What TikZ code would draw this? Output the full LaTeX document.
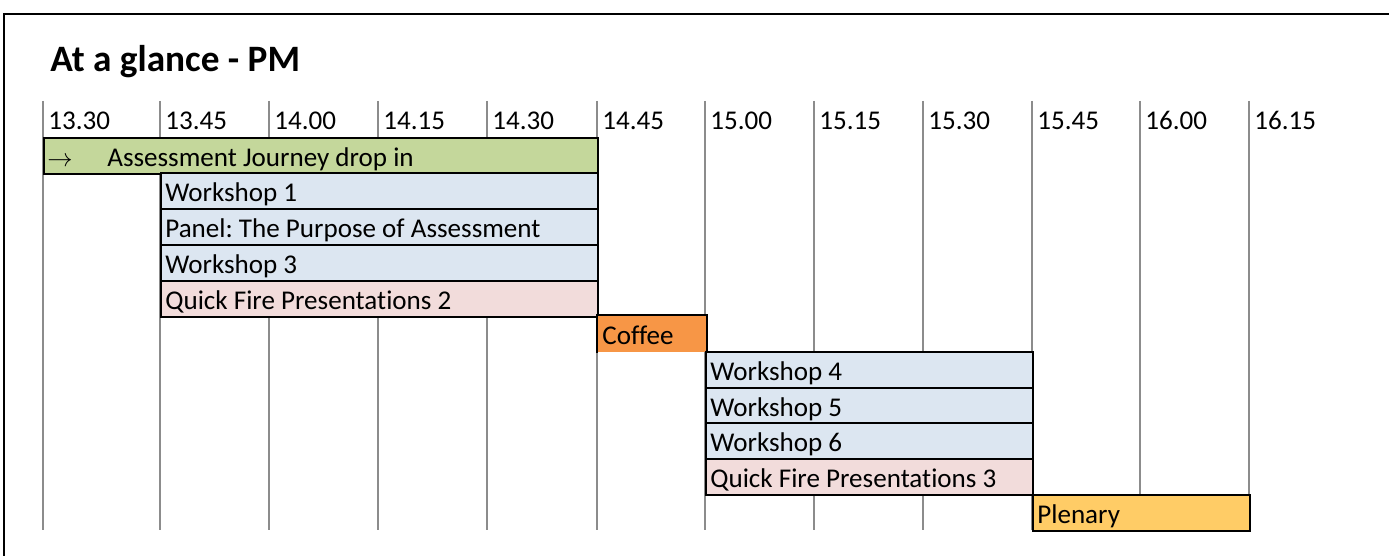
\documentclass[tikz,border=0pt]{standalone}
\usepackage{fontspec}
\setmainfont{Carlito}[Ligatures=NoCommon]
\usepackage{tikz}
\usepackage{xcolor}
\definecolor{dropgreen}{HTML}{C4D79B}
\definecolor{slotblue}{HTML}{DCE6F1}
\definecolor{slotpink}{HTML}{F2DCDB}
\definecolor{coffeeorange}{HTML}{F79646}
\definecolor{plenarygold}{HTML}{FFCC66}
\definecolor{gridgray}{HTML}{8C8C8C}
\frenchspacing

\begin{document}
\begin{tikzpicture}[
	gridline/.style={draw=gridgray, line width=0.04cm},
	slot/.style={shape=rectangle, draw=black, line width=0.04cm, anchor=north west, minimum height=0.715cm, inner sep=0pt},
	txt/.style={anchor=base west, inner sep=0pt, font=\fontsize{15.4pt}{18pt}\selectfont},
]
	\useasboundingbox (0, 0) rectangle (27.78, 11.12);
	% Frame, title, time grid:
	\draw[line width=0.04cm] (0.08, 0) |- (27.78, 10.84);
	\node[anchor=base west, inner sep=0pt, font=\bfseries\fontsize{21.2pt}{25pt}\selectfont](T0) at (1.0, 9.69){At a glance - PM};
	\draw[gridline] (0.86, 9.10) -- (0.86, 0.52);
	\draw[gridline] (3.20, 9.10) -- (3.20, 0.52);
	\draw[gridline] (5.38, 9.10) -- (5.38, 0.52);
	\draw[gridline] (7.56, 9.10) -- (7.56, 0.52);
	\draw[gridline] (9.74, 9.10) -- (9.74, 0.52);
	\draw[gridline] (11.94, 9.10) -- (11.94, 0.52);
	\draw[gridline] (14.10, 9.10) -- (14.10, 0.52);
	\draw[gridline] (16.28, 9.10) -- (16.28, 0.52);
	\draw[gridline] (18.46, 9.10) -- (18.46, 0.52);
	\draw[gridline] (20.64, 9.10) -- (20.64, 0.52);
	\draw[gridline] (22.80, 9.10) -- (22.80, 0.52);
	\draw[gridline] (24.98, 9.10) -- (24.98, 0.52);
	\node[txt](T1) at (0.96, 8.52){13.30};
	\node[txt](T2) at (3.30, 8.52){13.45};
	\node[txt](T3) at (5.48, 8.52){14.00};
	\node[txt](T4) at (7.66, 8.52){14.15};
	\node[txt](T5) at (9.84, 8.52){14.30};
	\node[txt](T6) at (12.04, 8.52){14.45};
	\node[txt](T7) at (14.20, 8.52){15.00};
	\node[txt](T8) at (16.38, 8.52){15.15};
	\node[txt](T9) at (18.56, 8.52){15.30};
	\node[txt](T10) at (20.74, 8.52){15.45};
	\node[txt](T11) at (22.90, 8.52){16.00};
	\node[txt](T12) at (25.08, 8.52){16.15};
	% Sessions:
	\node[slot, fill=dropgreen, minimum width=11.08cm](N1) at (0.86, 8.38){};
	\node[txt](N1a) at ([xshift=0.08cm, yshift=0.17cm]N1.south west){$\rightarrow$};
	\node[txt](N1b) at ([xshift=1.28cm, yshift=0.17cm]N1.south west){Assessment Journey drop in};
	\node[slot, fill=slotblue, minimum width=8.74cm](N2) at (3.20, 7.67){};
	\node[txt](N2a) at ([xshift=0.1cm, yshift=0.17cm]N2.south west){Workshop 1};
	\node[slot, fill=slotblue, minimum width=8.74cm](N3) at (3.20, 6.95){};
	\node[txt](N3a) at ([xshift=0.1cm, yshift=0.17cm]N3.south west){Panel: The Purpose of Assessment};
	\node[slot, fill=slotblue, minimum width=8.74cm](N4) at (3.20, 6.24){};
	\node[txt](N4a) at ([xshift=0.1cm, yshift=0.17cm]N4.south west){Workshop 3};
	\node[slot, fill=slotpink, minimum width=8.74cm](N5) at (3.20, 5.52){};
	\node[txt](N5a) at ([xshift=0.1cm, yshift=0.17cm]N5.south west){Quick Fire Presentations 2};
	\node[slot, draw=none, fill=coffeeorange, minimum width=2.16cm](N6) at (11.94, 4.81){};
	\draw[line width=0.04cm] (N6.south west) |- (N6.north east) -- (N6.south east);
	\node[txt](N6a) at ([xshift=0.1cm, yshift=0.17cm]N6.south west){Coffee};
	\node[slot, fill=slotblue, minimum width=6.54cm](N7) at (14.10, 4.10){};
	\node[txt](N7a) at ([xshift=0.1cm, yshift=0.17cm]N7.south west){Workshop 4};
	\node[slot, fill=slotblue, minimum width=6.54cm](N8) at (14.10, 3.38){};
	\node[txt](N8a) at ([xshift=0.1cm, yshift=0.17cm]N8.south west){Workshop 5};
	\node[slot, fill=slotblue, minimum width=6.54cm](N9) at (14.10, 2.67){};
	\node[txt](N9a) at ([xshift=0.1cm, yshift=0.17cm]N9.south west){Workshop 6};
	\node[slot, fill=slotpink, minimum width=6.54cm](N10) at (14.10, 1.95){};
	\node[txt](N10a) at ([xshift=0.1cm, yshift=0.17cm]N10.south west){Quick Fire Presentations 3};
	\node[slot, fill=plenarygold, minimum width=4.34cm](N11) at (20.64, 1.24){};
	\node[txt](N11a) at ([xshift=0.1cm, yshift=0.17cm]N11.south west){Plenary};
\end{tikzpicture}
\end{document}
